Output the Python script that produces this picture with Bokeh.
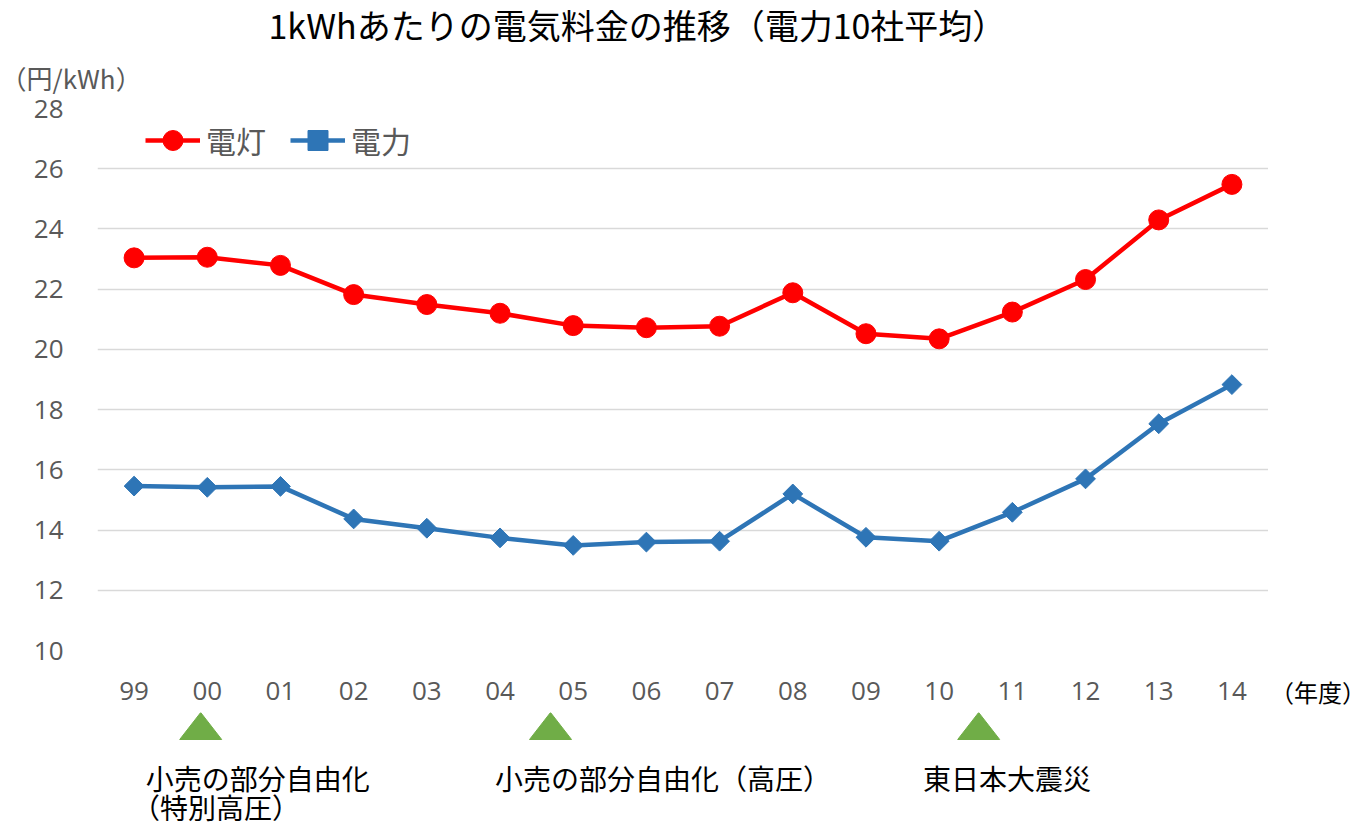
import math
from bokeh.plotting import figure
from bokeh.layouts import column, row
from bokeh.models import FixedTicker, Range1d, ColumnDataSource, Legend, LegendItem, Title
from bokeh.core.properties import value
from bokeh.embed import file_html
from bokeh.resources import INLINE

# ---- data ----
years = ["99", "00", "01", "02", "03", "04", "05", "06", "07", "08", "09", "10", "11", "12", "13", "14"]
dento = [23.04, 23.06, 22.79, 21.82, 21.49, 21.20, 20.79, 20.72, 20.77, 21.88, 20.52, 20.35, 21.24, 22.32, 24.30, 25.48]
denryoku = [15.46, 15.42, 15.45, 14.37, 14.06, 13.74, 13.49, 13.60, 13.63, 15.20, 13.76, 13.63, 14.59, 15.70, 17.53, 18.83]
y_ticks = [10, 12, 14, 16, 18, 20, 22, 24, 26, 28]
series_names = ["電灯", "電力"]
title_text = "1kWhあたりの電気料金の推移（電力10社平均）"
y_unit = "（円/kWh）"
x_unit = "（年度）"
event_pos = [0.91, 5.69, 11.54]          # event markers on the year axis (index units)
note_texts = ["小売の部分自由化", "（特別高圧）", "小売の部分自由化（高圧）", "東日本大震災"]

# ---- styles / layout ----
JP = "Noto Sans CJK JP"
NUM = "Open Sans"
GRAY = "#595959"
RED = "#FF0000"
BLUE = "#2E75B6"
GREEN = "#70AD47"
TOTAL_W = 1361
FRAME_L, FRAME_R = 97, 1268
SIDE_W = TOTAL_W - FRAME_R
HEAD_H, STRIP_H = 46, 113
TOP_B, FRAME_H, BOT_B = 62, 542, 62
MAIN_H = TOP_B + FRAME_H + BOT_B

# header: main title
head = figure(width=TOTAL_W, height=HEAD_H, output_backend="svg", toolbar_location=None,
              x_range=Range1d(FRAME_L, FRAME_R), y_range=Range1d(0, HEAD_H),
              x_axis_location=None, y_axis_location=None,
              min_border_left=FRAME_L, min_border_right=SIDE_W, min_border_top=0, min_border_bottom=0)
head.outline_line_color = None
head.grid.visible = False
head.text(x=[268], y=[22], text=[title_text], text_font=value(JP), text_font_size="34px",
          text_color="black", text_baseline="middle", text_align="left")

# main chart
idx = list(range(len(years)))
src = ColumnDataSource(dict(x=idx, dento=dento, denryoku=denryoku))

p = figure(width=FRAME_R, height=MAIN_H, output_backend="svg", toolbar_location=None,
           x_range=Range1d(-0.5, len(years) - 0.5), y_range=Range1d(10, 28),
           min_border_left=FRAME_L, min_border_right=0, min_border_top=TOP_B, min_border_bottom=BOT_B)
p.outline_line_color = None
unit_title = Title(text=y_unit, align="left", vertical_align="top", offset=-FRAME_L, standoff=22,
                   text_font=JP, text_font_size="26px", text_font_style="normal", text_color=GRAY)
p.add_layout(unit_title, "above")

p.xaxis.ticker = FixedTicker(ticks=idx)
p.xaxis.major_label_overrides = {i: y for i, y in zip(idx, years)}
p.yaxis.ticker = FixedTicker(ticks=y_ticks)
for ax in (p.xaxis, p.yaxis):
    ax.axis_line_color = None
    ax.major_tick_line_color = None
    ax.minor_tick_line_color = None
    ax.major_label_text_font = NUM
    ax.major_label_text_font_size = "26px"
    ax.major_label_text_color = GRAY
p.xaxis.major_label_standoff = 25
p.yaxis.major_label_standoff = 28

p.xgrid.grid_line_color = None
p.ygrid.grid_line_color = "#D9D9D9"
p.ygrid.grid_line_width = 1.5

l1 = p.line("x", "dento", source=src, line_color=RED, line_width=4.5)
m1 = p.scatter("x", "dento", source=src, marker="circle", size=20, fill_color=RED, line_color=RED)
l2 = p.line("x", "denryoku", source=src, line_color=BLUE, line_width=4.5)
m2 = p.scatter("x", "denryoku", source=src, marker="square", angle=math.pi / 4, size=14,
               fill_color=BLUE, line_color=BLUE)

legend = Legend(items=[LegendItem(label=series_names[0], renderers=[l1, m1]),
                       LegendItem(label=series_names[1], renderers=[l2, m2])],
                orientation="horizontal", location=(48, 485),
                glyph_width=55, glyph_height=50, label_height=50,
                label_standoff=6, spacing=24, padding=0, margin=0,
                border_line_color=None, background_fill_alpha=0,
                label_text_font=JP, label_text_font_size="30px", label_text_color=GRAY)
p.add_layout(legend, "center")

# right side: x unit label as the tick label of a one-tick axis
side = figure(width=SIDE_W, height=MAIN_H, output_backend="svg", toolbar_location=None,
              x_range=Range1d(0, 2), y_range=Range1d(10, 28), y_axis_location=None,
              min_border_left=0, min_border_right=0, min_border_top=TOP_B, min_border_bottom=BOT_B)
side.outline_line_color = None
side.grid.visible = False
side.xaxis.ticker = FixedTicker(ticks=[1])
side.xaxis.major_label_overrides = {1: x_unit}
side.xaxis.axis_line_color = None
side.xaxis.major_tick_line_color = None
side.xaxis.minor_tick_line_color = None
side.xaxis.major_label_text_font = JP
side.xaxis.major_label_text_font_size = "24px"
side.xaxis.major_label_text_color = "black"
side.xaxis.major_label_standoff = 17

# bottom strip: events
q = figure(width=TOTAL_W, height=STRIP_H, output_backend="svg", toolbar_location=None,
           x_range=p.x_range, y_range=Range1d(0, STRIP_H),
           x_axis_location=None, y_axis_location=None,
           min_border_left=FRAME_L, min_border_right=SIDE_W,
           min_border_top=0, min_border_bottom=0)
q.outline_line_color = None
q.grid.visible = False

hw = 0.287
q.patches(xs=[[e - hw, e + hw, e] for e in event_pos],
          ys=[[86, 86, 113] for _ in event_pos],
          fill_color=GREEN, line_color=GREEN)

note_x = [0.16, -0.03, 4.93, 10.78]
note_y = [48, 19, 48, 48]
q.text(x=note_x, y=note_y, text=note_texts, text_font=value(JP), text_font_size="28px",
       text_color="black", text_baseline="middle", text_align="left")

layout = column(head, row(p, side, spacing=0), q, spacing=0)
open("out.html", "w").write(file_html(layout, INLINE))
